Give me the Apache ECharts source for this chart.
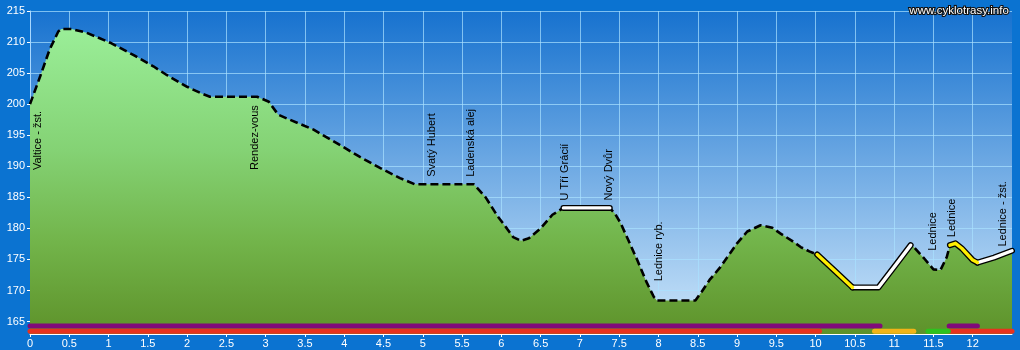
<!DOCTYPE html>
<html><head><meta charset="utf-8">
<script src="https://cdn.jsdelivr.net/npm/echarts@6/dist/echarts.min.js"></script>
<style>html,body{margin:0;padding:0;background:#0b73d1;}#c{width:1020px;height:350px;}</style>
</head><body><div id="c"></div>
<script>
// ---- data ----
const profileKm   = [0, 0.13, 0.25, 0.36, 0.4, 0.53, 0.72, 1.02, 1.32, 1.57, 1.74, 2.0, 2.17, 2.29, 2.89, 3.04, 3.16, 3.27, 3.61, 3.91, 4.2, 4.46, 4.71, 4.9, 5.65, 5.8, 5.95, 6.07, 6.15, 6.25, 6.35, 6.5, 6.65, 6.79, 7.38, 7.45, 7.52, 7.62, 7.73, 7.85, 7.94, 7.98, 8.47, 8.55, 8.65, 8.79, 9.0, 9.13, 9.3, 9.45, 9.55, 9.7, 9.81, 9.92, 10.02, 10.25, 10.47, 10.8, 11.0, 11.21, 11.25, 11.38, 11.5, 11.59, 11.67, 11.71, 11.78, 11.86, 12.0, 12.06, 12.27, 12.5];
const profileElev = [200.0, 204.5, 208.8, 211.7, 212.1, 212.1, 211.5, 209.9, 207.9, 206.1, 204.7, 202.8, 201.8, 201.2, 201.2, 200.4, 198.3, 197.7, 195.9, 193.7, 191.5, 189.7, 188.1, 187.1, 187.1, 185.0, 182.0, 180.0, 178.6, 178.0, 178.4, 180.0, 182.2, 183.3, 183.3, 182.3, 180.8, 178.0, 174.9, 171.3, 169.0, 168.4, 168.4, 169.8, 171.7, 173.8, 177.6, 179.5, 180.5, 180.1, 179.2, 178.0, 177.0, 176.3, 175.8, 173.1, 170.5, 170.5, 173.8, 177.3, 177.0, 175.2, 173.4, 173.3, 175.4, 177.3, 177.6, 176.8, 174.9, 174.5, 175.3, 176.4];
const waypointNames = ['Valtice - žst.', 'Rendez-vous', 'Svatý Hubert', 'Ladenská alej', 'U Tří Grácií', 'Nový Dvůr', 'Lednice ryb.', 'Lednice', 'Lednice', 'Lednice - žst.'];
const waypointKm    = [0.05, 2.81, 5.06, 5.56, 6.76, 7.32, 7.95, 11.44, 11.68, 12.34];
const whiteSegments  = [[6.79, 7.38], [10.47, 11.21], [12.06, 12.5]];
const yellowSegments = [[10.02, 10.47], [11.71, 12.06]];
const purpleBars = [[0, 10.82], [11.7, 12.06]];
const redBars    = [[0, 10.05], [11.69, 12.5]];
const orangeBars = [[10.75, 11.25]];
const greenBars  = [[11.43, 11.69]];
const xTicks = [0,0.5,1,1.5,2,2.5,3,3.5,4,4.5,5,5.5,6,6.5,7,7.5,8,8.5,9,9.5,10,10.5,11,11.5,12];
const yTicks = [165,170,175,180,185,190,195,200,205,210,215];
const watermark = 'www.cyklotrasy.info';

// ---- build ----
const FONT = '"Liberation Sans", Arial, sans-serif';
const profile = profileKm.map((k, i) => [k, profileElev[i]]);
function elevAt(k) {
  for (let i = 1; i < profileKm.length; i++) {
    if (k <= profileKm[i]) {
      const t = (k - profileKm[i-1]) / (profileKm[i] - profileKm[i-1]);
      return profileElev[i-1] + t * (profileElev[i] - profileElev[i-1]);
    }
  }
  return profileElev[profileElev.length - 1];
}
function maxNear(k) {
  let m = elevAt(k);
  for (let d = -0.06; d <= 0.06; d += 0.01) m = Math.max(m, elevAt(Math.min(12.5, Math.max(0, k + d))));
  return m;
}
const labelData = waypointKm.map((k, i) => [k, Math.min(maxNear(k) + 1.2, 189.4), i]);

function segPoints(a, b) { return profile.filter(p => p[0] >= a - 1e-9 && p[0] <= b + 1e-9); }

const series = [{
  type: 'line', data: profile, symbol: 'none', silent: true,
  lineStyle: { color: '#000', width: 2.6, type: [8, 4] },
  areaStyle: { origin: 'start', opacity: 1, color: new echarts.graphic.LinearGradient(0, 0, 0, 1, [
    { offset: 0, color: '#9aee98' }, { offset: 0.4, color: '#84d274' },
    { offset: 0.7, color: '#72b44a' }, { offset: 1, color: '#5e922a' }]) },
  z: 2
}];
function addSeg(list, color) {
  list.forEach(s => {
    const pts = segPoints(s[0], s[1]);
    series.push({ type: 'line', data: pts, symbol: 'none', silent: true, z: 3,
      lineStyle: { color: '#000', width: 6, cap: 'round', join: 'round' } });
    series.push({ type: 'line', data: pts, symbol: 'none', silent: true, z: 4,
      lineStyle: { color: color, width: 3.4, cap: 'round', join: 'round' } });
  });
}
addSeg(whiteSegments, '#ffffff');
addSeg(yellowSegments, '#ffee00');
function addBars(list, row, color) {
  list.forEach(s => series.push({ type: 'line', symbol: 'none', silent: true, z: 5,
    data: [[s[0], row], [s[1], row]],
    lineStyle: { color: color, width: 5, cap: 'round' } }));
}
addBars(purpleBars, 164.3, '#800a7a');
addBars(redBars, 163.45, '#e8321e');
addBars(orangeBars, 163.45, '#f2b418');
addBars(greenBars, 163.45, '#2ec21e');
series.push({
  type: 'custom', data: labelData, silent: true, z: 10, clip: false,
  encode: { x: 0, y: 1 },
  renderItem: (params, api) => {
    const p = api.coord([api.value(0), api.value(1)]);
    return { type: 'text', x: p[0] + 4, y: p[1], rotation: Math.PI / 2,
      style: { text: waypointNames[params.dataIndex], fill: '#000', font: '11px ' + FONT,
        align: 'left', verticalAlign: 'middle' } };
  }
});

const chart = echarts.init(document.getElementById('c'), null, { renderer: 'canvas' });
chart.setOption({
  animation: false,
  backgroundColor: '#0b73d1',
  title: { text: watermark, right: 4, top: 0,
    textStyle: { color: '#fff', fontSize: 11.5, fontWeight: 'normal', fontFamily: FONT,
      textBorderColor: '#111', textBorderWidth: 2.2 } },
  grid: { left: 30, right: 8, top: 11, bottom: 16, show: true, borderWidth: 0,
    backgroundColor: new echarts.graphic.LinearGradient(0, 0, 0, 1, [
      { offset: 0, color: '#1772cf' }, { offset: 1, color: '#cde6fa' }]) },
  xAxis: { type: 'value', min: 0, max: 12.5, interval: 0.5,
    axisLine: { show: true, lineStyle: { color: '#ffffff', width: 1 } },
    axisTick: { show: true, length: 3, customValues: xTicks, lineStyle: { color: '#fff' } },
    axisLabel: { customValues: xTicks, color: '#fff', fontSize: 11, fontFamily: FONT, margin: 4 },
    splitLine: { show: true, lineStyle: { color: 'rgba(170,225,255,0.7)', width: 1 } } },
  yAxis: { type: 'value', min: 163, max: 215,
    axisLine: { show: true, lineStyle: { color: '#a8d8ff', width: 1 } },
    axisTick: { show: true, length: 3, customValues: yTicks, lineStyle: { color: '#fff' } },
    axisLabel: { customValues: yTicks, color: '#fff', fontSize: 11, fontFamily: FONT, margin: 5 },
    splitLine: { show: true, lineStyle: { color: 'rgba(170,225,255,0.7)', width: 1 } } },
  series: series
});
</script></body></html>
